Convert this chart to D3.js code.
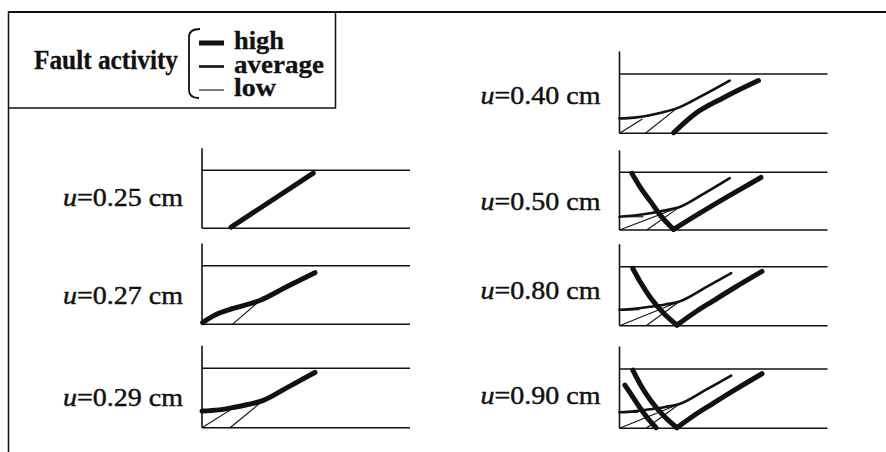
<!DOCTYPE html>
<html>
<head>
<meta charset="utf-8">
<script src="https://cdn.jsdelivr.net/npm/d3@7"></script>
<style>
  html, body { margin: 0; padding: 0; background: #fff; }
  svg { display: block; }
  text { font-family: "Liberation Serif", "Times New Roman", serif; fill: #111; }
</style>
</head>
<body>
<svg id="chart" width="886" height="452"></svg>
<script>
// Fault activity levels shown in the legend
const activityLevels = ["high", "average", "low"];

// Displacement u (cm) for each panel: left column, then right column
const displacementsLeft = [0.25, 0.27, 0.29];
const displacementsRight = [0.40, 0.50, 0.80, 0.90];

// Curves per panel. x runs 0..100 along the baseline, y runs 0 (baseline) .. 1 (upper bound)
const curvesU025 = [
  { activity: "high", points: [[14, 0.02], [53.5, 0.95]] }
];
const curvesU027 = [
  { activity: "low",  points: [[14.6, 0], [28, 0.41]] },
  { activity: "high", points: [[0.3, 0.03], [7, 0.17], [15, 0.27], [28, 0.41], [40.7, 0.64], [54.3, 0.88]] }
];
const curvesU029 = [
  { activity: "low",  points: [[0, 0], [15, 0.33]] },
  { activity: "low",  points: [[13.5, 0], [29.5, 0.46]] },
  { activity: "high", points: [[0, 0.28], [8, 0.3], [15, 0.34], [22, 0.39], [29.5, 0.46], [40.7, 0.67], [54.3, 0.93]] }
];
const curvesU040 = [
  { activity: "low",     points: [[0, 0.25], [7, 0.25]] },
  { activity: "low",     points: [[0, 0], [11, 0.24]] },
  { activity: "low",     points: [[12.5, 0], [27.5, 0.42]] },
  { activity: "average", points: [[0, 0.25], [7, 0.265], [14, 0.3], [21, 0.355], [27.5, 0.42], [40, 0.64], [53, 0.89]] },
  { activity: "high",    points: [[26, 0.01], [35.6, 0.31], [50, 0.6], [66.8, 0.89]] }
];
const curvesU050 = [
  { activity: "low",     points: [[0, 0.23], [11.5, 0.23]] },
  { activity: "low",     points: [[0, 0], [29, 0.4]] },
  { activity: "low",     points: [[13.1, 0], [29, 0.4]] },
  { activity: "average", points: [[0, 0.23], [7, 0.25], [14.8, 0.29], [22, 0.34], [29, 0.4], [41, 0.64], [53, 0.9]] },
  { activity: "high",    points: [[6, 0.98], [10, 0.74], [14.8, 0.5], [20, 0.24], [26, 0.01]] },
  { activity: "high",    points: [[26, 0.01], [39, 0.3], [53, 0.6], [68, 0.91]] }
];
const curvesU080 = [
  { activity: "low",     points: [[0, 0.27], [9.6, 0.27]] },
  { activity: "low",     points: [[0, 0], [28.8, 0.41]] },
  { activity: "low",     points: [[12.8, 0], [28.8, 0.41]] },
  { activity: "average", points: [[0, 0.27], [7, 0.285], [14.5, 0.32], [22, 0.36], [28.8, 0.41], [41, 0.64], [53.7, 0.89]] },
  { activity: "high",    points: [[6.4, 0.97], [10, 0.74], [15, 0.47], [21, 0.22], [27.6, 0.01]] },
  { activity: "high",    points: [[27.6, 0.01], [36, 0.22], [45, 0.42], [56, 0.66], [68.5, 0.92]] }
];
const curvesU090 = [
  { activity: "low",     points: [[0, 0.27], [9, 0.27]] },
  { activity: "low",     points: [[0, 0], [28.8, 0.41]] },
  { activity: "low",     points: [[12.8, 0], [28.8, 0.41]] },
  { activity: "average", points: [[0, 0.27], [7, 0.285], [14.5, 0.32], [22, 0.36], [28.8, 0.41], [41, 0.64], [53.7, 0.89]] },
  { activity: "high",    points: [[2.6, 0.73], [6, 0.55], [9.6, 0.36], [14, 0.15], [17.6, 0.01]] },
  { activity: "high",    points: [[6.4, 0.98], [10, 0.74], [15, 0.47], [21, 0.22], [27.6, 0.01]] },
  { activity: "high",    points: [[27.6, 0.01], [36, 0.22], [45, 0.42], [56, 0.66], [68.5, 0.92]] }
];

// stroke width by activity level
const strokeByActivity = d3.scaleOrdinal().domain(activityLevels).range([5, 2.6, 1.1]);

// Panel placement on the page
const panelWidth = 208;
const leftLayout = [
  { x0: 202,   top: 170.3, bottom: 228.3, labelY: 205.5 },
  { x0: 202,   top: 265.7, bottom: 324.3, labelY: 303.5 },
  { x0: 202,   top: 368.3, bottom: 427.7, labelY: 405.5 }
];
const rightLayout = [
  { x0: 619.5, top: 74,    bottom: 133.3, labelY: 104 },
  { x0: 619.5, top: 172.3, bottom: 230,   labelY: 210 },
  { x0: 619.5, top: 266.7, bottom: 325.7, labelY: 299 },
  { x0: 619.5, top: 369,   bottom: 428.3, labelY: 404 }
];

const panels = [
  ...displacementsLeft.map((u, i) => ({ u, ...leftLayout[i] })),
  ...displacementsRight.map((u, i) => ({ u, ...rightLayout[i] }))
];
const curvesByU = new Map([
  [0.25, curvesU025], [0.27, curvesU027], [0.29, curvesU029],
  [0.40, curvesU040], [0.50, curvesU050], [0.80, curvesU080], [0.90, curvesU090]
]);

const svg = d3.select("#chart");
const ink = "#111";

// Outer frame (top and left edges)
svg.append("line").attr("x1", 8.5).attr("y1", 12).attr("x2", 886).attr("y2", 12)
  .attr("stroke", ink).attr("stroke-width", 1.8);
svg.append("line").attr("x1", 8.5).attr("y1", 11).attr("x2", 8.5).attr("y2", 452)
  .attr("stroke", ink).attr("stroke-width", 1.5);

// Legend box
const legend = svg.append("g");
legend.append("path")
  .attr("d", "M8.5,108 H335.5 V12")
  .attr("fill", "none").attr("stroke", ink).attr("stroke-width", 1.5);
legend.append("text")
  .attr("x", 34).attr("y", 68.5)
  .attr("font-size", 27).attr("font-weight", "bold")
  .attr("stroke", ink).attr("stroke-width", 0.3)
  .attr("textLength", 144).attr("lengthAdjust", "spacingAndGlyphs")
  .text("Fault activity");
legend.append("path")
  .attr("d", "M200,29 Q189,29 189,37 L189,90 Q189,98 199,98")
  .attr("fill", "none").attr("stroke", ink).attr("stroke-width", 1.8);

const legendY = d3.scalePoint().domain(activityLevels).range([43, 90]);
const legendTextWidth = { high: 50, average: 90, low: 42 };
const legendItems = legend.selectAll("g.item").data(activityLevels).join("g").attr("class", "item");
legendItems.append("line")
  .attr("x1", 199).attr("x2", 224)
  .attr("y1", d => legendY(d)).attr("y2", d => legendY(d))
  .attr("stroke", ink).attr("stroke-width", d => strokeByActivity(d));
legendItems.append("text")
  .attr("x", 234).attr("y", d => legendY(d) + 6)
  .attr("font-size", 25).attr("font-weight", "bold")
  .attr("stroke", ink).attr("stroke-width", 0.3)
  .attr("textLength", d => legendTextWidth[d]).attr("lengthAdjust", "spacingAndGlyphs")
  .text(d => d);

// Panels
const fmt = d3.format(".2f");
const line = d3.line().curve(d3.curveMonotoneX);

panels.forEach(p => {
  const x = d3.scaleLinear().domain([0, 100]).range([p.x0, p.x0 + panelWidth]);
  const y = d3.scaleLinear().domain([0, 1]).range([p.bottom, p.top]);
  const g = svg.append("g");

  // vertical axis rising above the upper bound
  g.append("line")
    .attr("x1", x(0)).attr("x2", x(0))
    .attr("y1", y(1.38)).attr("y2", y(0))
    .attr("stroke", ink).attr("stroke-width", 1.6);
  // upper bound and baseline
  [0, 1].forEach(v => {
    g.append("line")
      .attr("x1", x(0)).attr("x2", x(100))
      .attr("y1", y(v)).attr("y2", y(v))
      .attr("stroke", ink).attr("stroke-width", 1.6);
  });

  // fault curves
  g.selectAll("path.curve")
    .data(curvesByU.get(p.u))
    .join("path")
    .attr("class", "curve")
    .attr("d", c => line(c.points.map(([a, b]) => [x(a), y(b)])))
    .attr("fill", "none")
    .attr("stroke", ink)
    .attr("stroke-linecap", c => c.activity === "low" ? "butt" : "round")
    .attr("stroke-width", c => strokeByActivity(c.activity));

  // label
  const t = g.append("text")
    .attr("x", x(0) - 19).attr("y", p.labelY)
    .attr("text-anchor", "end")
    .attr("font-size", 26)
    .attr("stroke", ink).attr("stroke-width", 0.45)
    .attr("textLength", 120).attr("lengthAdjust", "spacingAndGlyphs");
  t.append("tspan").attr("font-style", "italic").text("u");
  t.append("tspan").text(`=${fmt(p.u)} cm`);
});
</script>
</body>
</html>
